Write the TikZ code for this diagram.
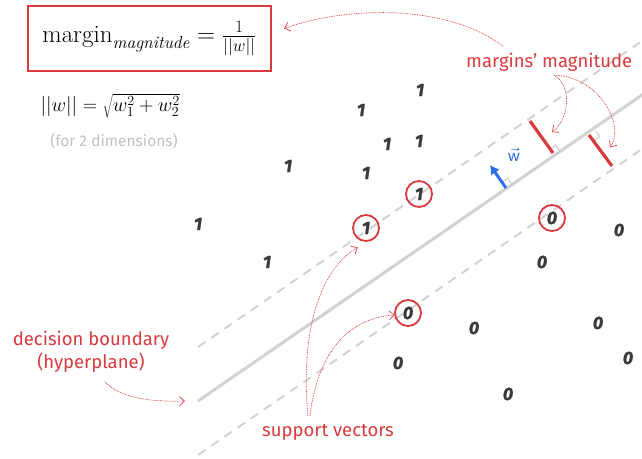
\RequirePackage{fix-cm}
\documentclass[tikz,border=0pt]{standalone}
\usepackage{fontspec}
\newfontfamily\handfont{Fira Sans}
\newfontfamily\digitfont{Fira Sans}[BoldItalicFeatures={FakeBold=1.2}]
\usetikzlibrary{arrows.meta,calc}

\begin{document}
\begin{tikzpicture}[
  x=1pt, y=-1pt,
  datum/.style={font=\digitfont\bfseries\itshape\fontsize{18}{18}\selectfont, text=ink, inner sep=1pt},
  supvec/.style={draw=mred, line width=1.8pt, circle, minimum size=26pt},
  boundary/.style={draw=lgray, line width=3pt},
  marginline/.style={draw=lgray, line width=2pt, dash pattern=on 9pt off 7pt},
  marginbar/.style={draw=mred, line width=3.2pt},
  rightangle/.style={draw=lgray, line width=1.2pt},
  wvec/.style={-{Latex[length=9pt,width=11pt]}, draw=wblue, line width=3pt},
  remark/.style={font=\handfont\fontsize{18.5}{23}\selectfont, text=mred, align=center, inner sep=2pt},
  pointer/.style={-{Straight Barb[length=5pt,width=9pt]}, draw=mred, line width=0.7pt, dash pattern=on 0.8pt off 0.9pt}
]
\definecolor{ink}{HTML}{3A3A3A}
\definecolor{mred}{HTML}{D93A3E}
\definecolor{lgray}{HTML}{D2D2D2}
\definecolor{wblue}{HTML}{2F6FEB}
\definecolor{dimgray}{HTML}{C0C0C0}

\useasboundingbox (0,0) rectangle (642,458);

% formulas
\node[draw=mred, line width=2.2pt, minimum width=243pt, minimum height=65pt,
  font=\fontsize{25}{30}\selectfont] (fbox) at (149.5,38.5)
  {$\mathrm{margin}_{\mathit{magnitude}} = \frac{1}{||w||}$};
\node[anchor=west, font=\fontsize{20}{24}\selectfont] (norm) at (37,106)
  {$||w|| = \sqrt{w_1^2 + w_2^2}$};
\node[font=\handfont\fontsize{15.5}{18}\selectfont, text=dimgray] (dims) at (114,141)
  {(for 2 dimensions)};

% hyperplane and margins
\coordinate (b0) at (198,401);
\coordinate (b1) at (660,82.6);
\coordinate (u0) at (198,347);
\coordinate (u1) at (660,28.6);
\coordinate (l0) at (198,455);
\coordinate (l1) at (660,136.6);
\draw[marginline] (u0) -- (u1);
\draw[marginline] (l0) -- (l1);
\draw[boundary] (b0) -- (b1);

\coordinate (m1a) at (530,121);
\coordinate (m1b) at (553,153);
\coordinate (m2a) at (589,135);
\coordinate (m2b) at (612,166);
\draw[rightangle] (559.8,151) -- ++(-4,-5.8) -- ++(-5.8,4);
\draw[rightangle] (595.8,131) -- ++(4,5.8) -- ++(-5.8,4);
\draw[marginbar] (m1a) -- (m1b);
\draw[marginbar] (m2a) -- (m2b);

\coordinate (w0) at (506,188);
\coordinate (w1) at (490,165);
\draw[rightangle] (511.8,184) -- ++(-4,-5.8) -- ++(-5.8,4);
\draw[wvec] (w0) -- (w1);
\node[text=wblue, font=\fontsize{19}{19}\selectfont, inner sep=0pt] (wlab) at (514,155) {$\vec{\mathsf{w}}$};

% class 1
\node[datum] (p1) at (420,90) {1};
\node[datum] (p2) at (361,110) {1};
\node[datum] (p3) at (387,144) {1};
\node[datum] (p4) at (419,141) {1};
\node[datum] (p5) at (288,166) {1};
\node[datum] (p6) at (366,173) {1};
\node[datum] (p7) at (198,224) {1};
\node[datum] (p8) at (267,262) {1};
\node[datum] (s1) at (366,228) {1};
\node[datum] (s2) at (419,194) {1};
\node[supvec] at (s1) {};
\node[supvec] at (s2) {};

% class 0
\node[datum] (q1) at (619,230) {0};
\node[datum] (q2) at (542,262) {0};
\node[datum] (q3) at (474,328) {0};
\node[datum] (q4) at (598,323) {0};
\node[datum] (q5) at (398,363) {0};
\node[datum] (q6) at (628,358) {0};
\node[datum] (q7) at (508,394) {0};
\node[datum] (s3) at (408,313) {0};
\node[datum] (s4) at (552,218) {0};
\node[supvec] at (s3) {};
\node[supvec] at (s4) {};

% labels
\node[remark, anchor=base west] (mm) at (464,67) {margins’ magnitude};
\node[remark] (db) at (91,352) {decision boundary\\(hyperplane)};
\node[remark] (sv) at (328,432) {support vectors};

\draw[pointer] ($(mm.north west)+(39,-4)$) .. controls (450,5) and (350,5) .. ($(fbox.east)+(12,-10)$);
\draw[pointer] ($(mm.south west)+(90,2)$) .. controls (572,85) and (570,118) .. ($(m1a)!0.35!(m1b)+(14,0)$);
\draw[pointer] ($(mm.south west)+(92,2)$) .. controls (600,78) and (625,125) .. ($(m2a)!0.4!(m2b)+(12,0)$);
\draw[pointer] ($(db.south)+(14,7)$) .. controls (120,398) and (150,402) .. ($(b0)+(-13,0)$);
\draw[pointer] ($(sv.north)+(-20,-6)$) .. controls (300,330) and (320,270) .. ($(s1.south west)+(-3,12)$);
\draw[pointer] ($(sv.north)+(-18,-6)$) .. controls (318,350) and (350,318) .. ($(s3.west)+(-7,2)$);
\end{tikzpicture}
\end{document}
